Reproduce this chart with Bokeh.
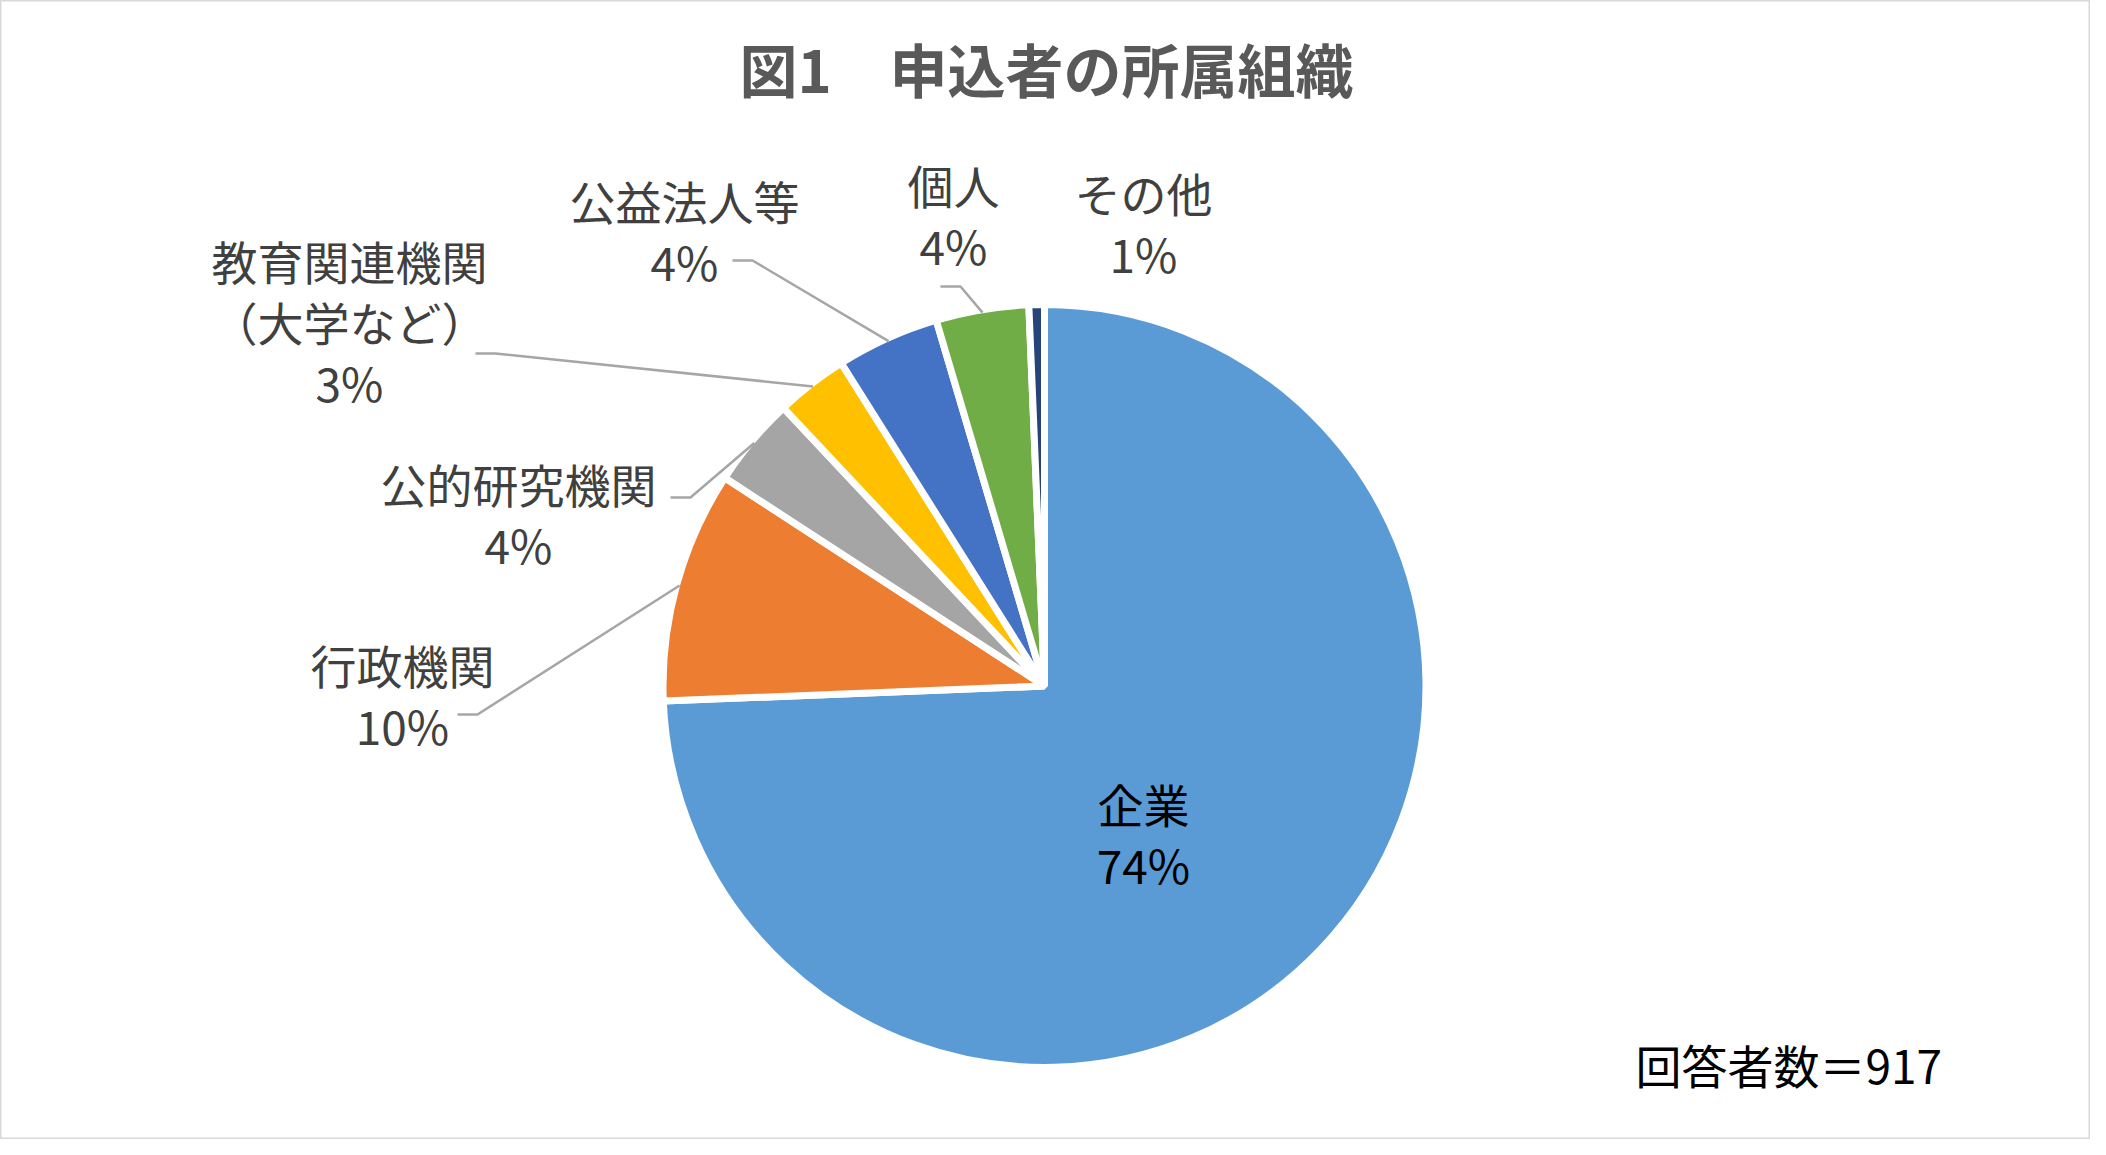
import math
from bokeh.plotting import figure
from bokeh.models import ColumnDataSource, Range1d
from bokeh.embed import file_html
from bokeh.resources import INLINE
from bokeh.core.properties import value

# ---------------- data ----------------
categories = ["企業", "行政機関", "公的研究機関", "教育関連機関", "公益法人等", "個人", "その他"]
label_lines = [["企業"], ["行政機関"], ["公的研究機関"], ["教育関連機関", "（大学など）"],
               ["公益法人等"], ["個人"], ["その他"]]
counts = [682, 90, 35, 28, 40, 36, 6]
total = 917
title_text = "図1　申込者の所属組織"
note_text = "回答者数＝917"

# ---------------- styles / layout ----------------
colors = ["#5B9BD5", "#ED7D31", "#A5A5A5", "#FFC000", "#4472C4", "#70AD47", "#264478"]
label_colors = ["#000000", "#404040", "#404040", "#404040", "#404040", "#404040", "#404040"]
FONT = "Noto Sans CJK JP"
W, H = 2090, 1139          # figure size (page has 8px margin)
PAGE_H = 1155
CX, CY, R = 1052, 693.5, 381.5   # pie centre / radius in page pixels
label_pos = [(1151, 810), (410, 671), (526, 490), (357, 267), (692, 207), (961, 191), (1151, 199)]
line_gap = 61
leader_start = [None, (465, 722), (678, 505), (483, 361), (740, 268), (948, 294), None]
elbow = 20


def ydata(py):
    return PAGE_H - py


p = figure(width=W, height=H, output_backend="svg", toolbar_location=None,
           x_range=Range1d(8, 8 + W), y_range=Range1d(PAGE_H - 8 - H, PAGE_H - 8),
           x_axis_type=None, y_axis_type=None, min_border=0,
           background_fill_color="white", border_fill_color="white",
           outline_line_color="#D9D9D9", outline_line_width=2)
p.grid.visible = False

# ---------------- wedges ----------------
starts, ends, mids = [], [], []
cum = 0.0
for c in counts:
    a0 = math.pi / 2 - 2 * math.pi * cum / total
    cum += c
    a1 = math.pi / 2 - 2 * math.pi * cum / total
    starts.append(a0)
    ends.append(a1)
    mids.append((a0 + a1) / 2)

src = ColumnDataSource(dict(x=[CX] * len(counts), y=[ydata(CY)] * len(counts),
                            start=starts, end=ends, color=colors, cat=categories))
p.wedge(x="x", y="y", radius=R, start_angle="start", end_angle="end", direction="clock",
        fill_color="color", line_color="white", line_width=7, source=src)

# ---------------- leader lines ----------------
xs, ys = [], []
for i, st in enumerate(leader_start):
    if st is None:
        continue
    ax = CX + (R - 3) * math.cos(mids[i])
    ay = ydata(CY) + (R - 3) * math.sin(mids[i])
    sx, sy = st
    xs.append([sx, sx + elbow, ax])
    ys.append([ydata(sy), ydata(sy), ay])
p.multi_line(xs=xs, ys=ys, line_color="#A6A6A6", line_width=2.5)

# ---------------- labels ----------------
tx, ty, tt, tc = [], [], [], []
for i, lines in enumerate(label_lines):
    lx, ly = label_pos[i]
    pct = f"{round(100 * counts[i] / total)}%"
    for k, s in enumerate(lines + [pct]):
        tx.append(lx)
        ty.append(ydata(ly + k * line_gap))
        tt.append(s)
        tc.append(label_colors[i])
p.text(x=tx, y=ty, text=tt, text_color=tc, text_font=value(FONT), text_font_size="46px",
       text_align="center", text_baseline="middle")

# title
p.text(x=[1054], y=[ydata(75)], text=[title_text], text_color="#595959", text_font=value(FONT),
       text_font_size="58px", text_font_style="bold", text_align="center", text_baseline="middle")

# respondents note
p.text(x=[1643], y=[ydata(1071)], text=[note_text], text_color="#000000", text_font=value(FONT),
       text_font_size="46px", text_align="left", text_baseline="middle")

open("out.html", "w").write(file_html(p, INLINE))
